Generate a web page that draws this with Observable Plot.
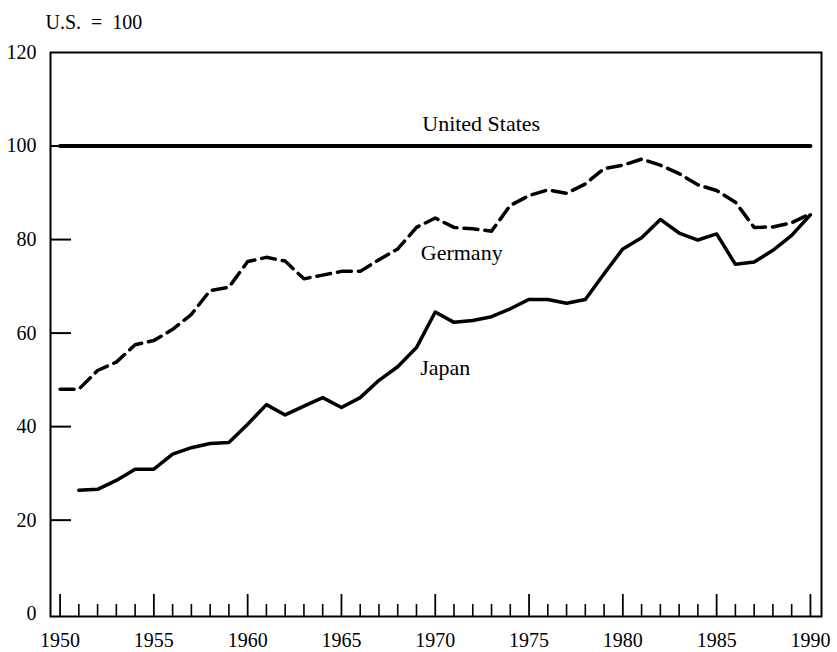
<!DOCTYPE html>
<html><head><meta charset="utf-8">
<script src="https://cdn.jsdelivr.net/npm/d3@7"></script>
<script src="https://cdn.jsdelivr.net/npm/@observablehq/plot@0.6"></script>
<style>body{margin:0;background:#fff}</style>
</head><body><div id="chart"></div>
<script>
const title = "U.S.\u2002=\u2002100";

const germanyYears = [1950,1951,1952,1953,1954,1955,1956,1957,1958,1959,1960,1961,1962,1963,1964,1965,1966,1967,1968,1969,1970,1971,1972,1973,1974,1975,1976,1977,1978,1979,1980,1981,1982,1983,1984,1985,1986,1987,1988,1989,1990];
const germanyValues = [48.0,48.0,52.0,53.8,57.5,58.4,60.8,64.0,69.1,69.8,75.3,76.2,75.4,71.6,72.4,73.2,73.2,75.7,78.0,82.6,84.6,82.6,82.3,81.8,87.3,89.4,90.6,89.9,91.9,95.2,95.9,97.2,95.9,94.1,91.7,90.5,88.0,82.6,82.7,83.6,85.5];

const japanYears = [1951,1952,1953,1954,1955,1956,1957,1958,1959,1960,1961,1962,1963,1964,1965,1966,1967,1968,1969,1970,1971,1972,1973,1974,1975,1976,1977,1978,1979,1980,1981,1982,1983,1984,1985,1986,1987,1988,1989,1990];
const japanValues = [26.4,26.6,28.5,30.9,30.9,34.1,35.5,36.4,36.6,40.5,44.7,42.5,44.4,46.2,44.1,46.2,49.9,52.8,56.9,64.5,62.3,62.7,63.5,65.2,67.2,67.2,66.4,67.2,72.7,78.0,80.4,84.3,81.4,79.9,81.2,74.7,75.2,77.7,80.9,85.3];

const usYears = [1950, 1990];
const usValues = [100, 100];

const seriesLabels = ["United States", "Germany", "Japan"];
const labelYears = [1972.45, 1971.41, 1970.53];
const labelValues = [104.8, 77.2, 52.6];

const majorYears = [1950,1955,1960,1965,1970,1975,1980,1985,1990];
const minorYears = [1951,1952,1953,1954,1956,1957,1958,1959,1961,1962,1963,1964,1966,1967,1968,1969,1971,1972,1973,1974,1976,1977,1978,1979,1981,1982,1983,1984,1986,1987,1988,1989];
const yTicks = [0,20,40,60,80,100,120];

const germany = germanyYears.map((year, i) => ({year, value: germanyValues[i]}));
const japan = japanYears.map((year, i) => ({year, value: japanValues[i]}));
const us = usYears.map((year, i) => ({year, value: usValues[i]}));
const labels = seriesLabels.map((text, i) => ({text, year: labelYears[i], value: labelValues[i]}));

const W = 837, ML = 50, MR = 16;
const innerWidth = W - ML - MR;
const xDomain = [1949.49, 1990.59];
const yTickLen = 21 * (xDomain[1] - xDomain[0]) / innerWidth;

const chart = Plot.plot({
  width: W, height: 652,
  marginLeft: ML, marginRight: MR, marginTop: 52, marginBottom: 36,
  style: {fontFamily: "'Liberation Serif', 'Times New Roman', serif", fontSize: "20px", color: "#000", background: "#fff"},
  x: {domain: xDomain, axis: null},
  y: {domain: [-0.6, 120], axis: null},
  marks: [
    Plot.frame({stroke: "#000", strokeWidth: 2}),
    Plot.axisX({ticks: minorYears, anchor: "bottom", tickSize: -12, tickFormat: () => "", label: null, strokeWidth: 1.6}),
    Plot.axisX({ticks: majorYears, anchor: "bottom", tickSize: -22, tickFormat: () => "", label: null, strokeWidth: 1.8}),
    Plot.axisX({ticks: majorYears, anchor: "bottom", tickSize: 0, tickPadding: 16, tickFormat: "d", label: null}),
    Plot.ruleY(yTicks.slice(1, -1), {y: d => d, x1: xDomain[0], x2: xDomain[0] + yTickLen, stroke: "#000", strokeWidth: 2}),
    Plot.axisY({ticks: yTicks, anchor: "left", tickSize: 0, tickPadding: 14, tickFormat: "d", label: null}),
    Plot.line(us, {x: "year", y: "value", stroke: "#000", strokeWidth: 4}),
    Plot.line(germany, {x: "year", y: "value", stroke: "#000", strokeWidth: 3.5, strokeDasharray: "14,7", strokeLinejoin: "round"}),
    Plot.line(japan, {x: "year", y: "value", stroke: "#000", strokeWidth: 3.5, strokeLinejoin: "round"}),
    Plot.text(labels, {x: "year", y: "value", text: "text", fill: "#000", fontSize: 22}),
    Plot.text([title], {frameAnchor: "top-left", dx: -5, dy: -38, textAnchor: "start", fill: "#000", fontSize: 20})
  ]
});
document.getElementById("chart").appendChild(chart);
</script>
</body></html>
